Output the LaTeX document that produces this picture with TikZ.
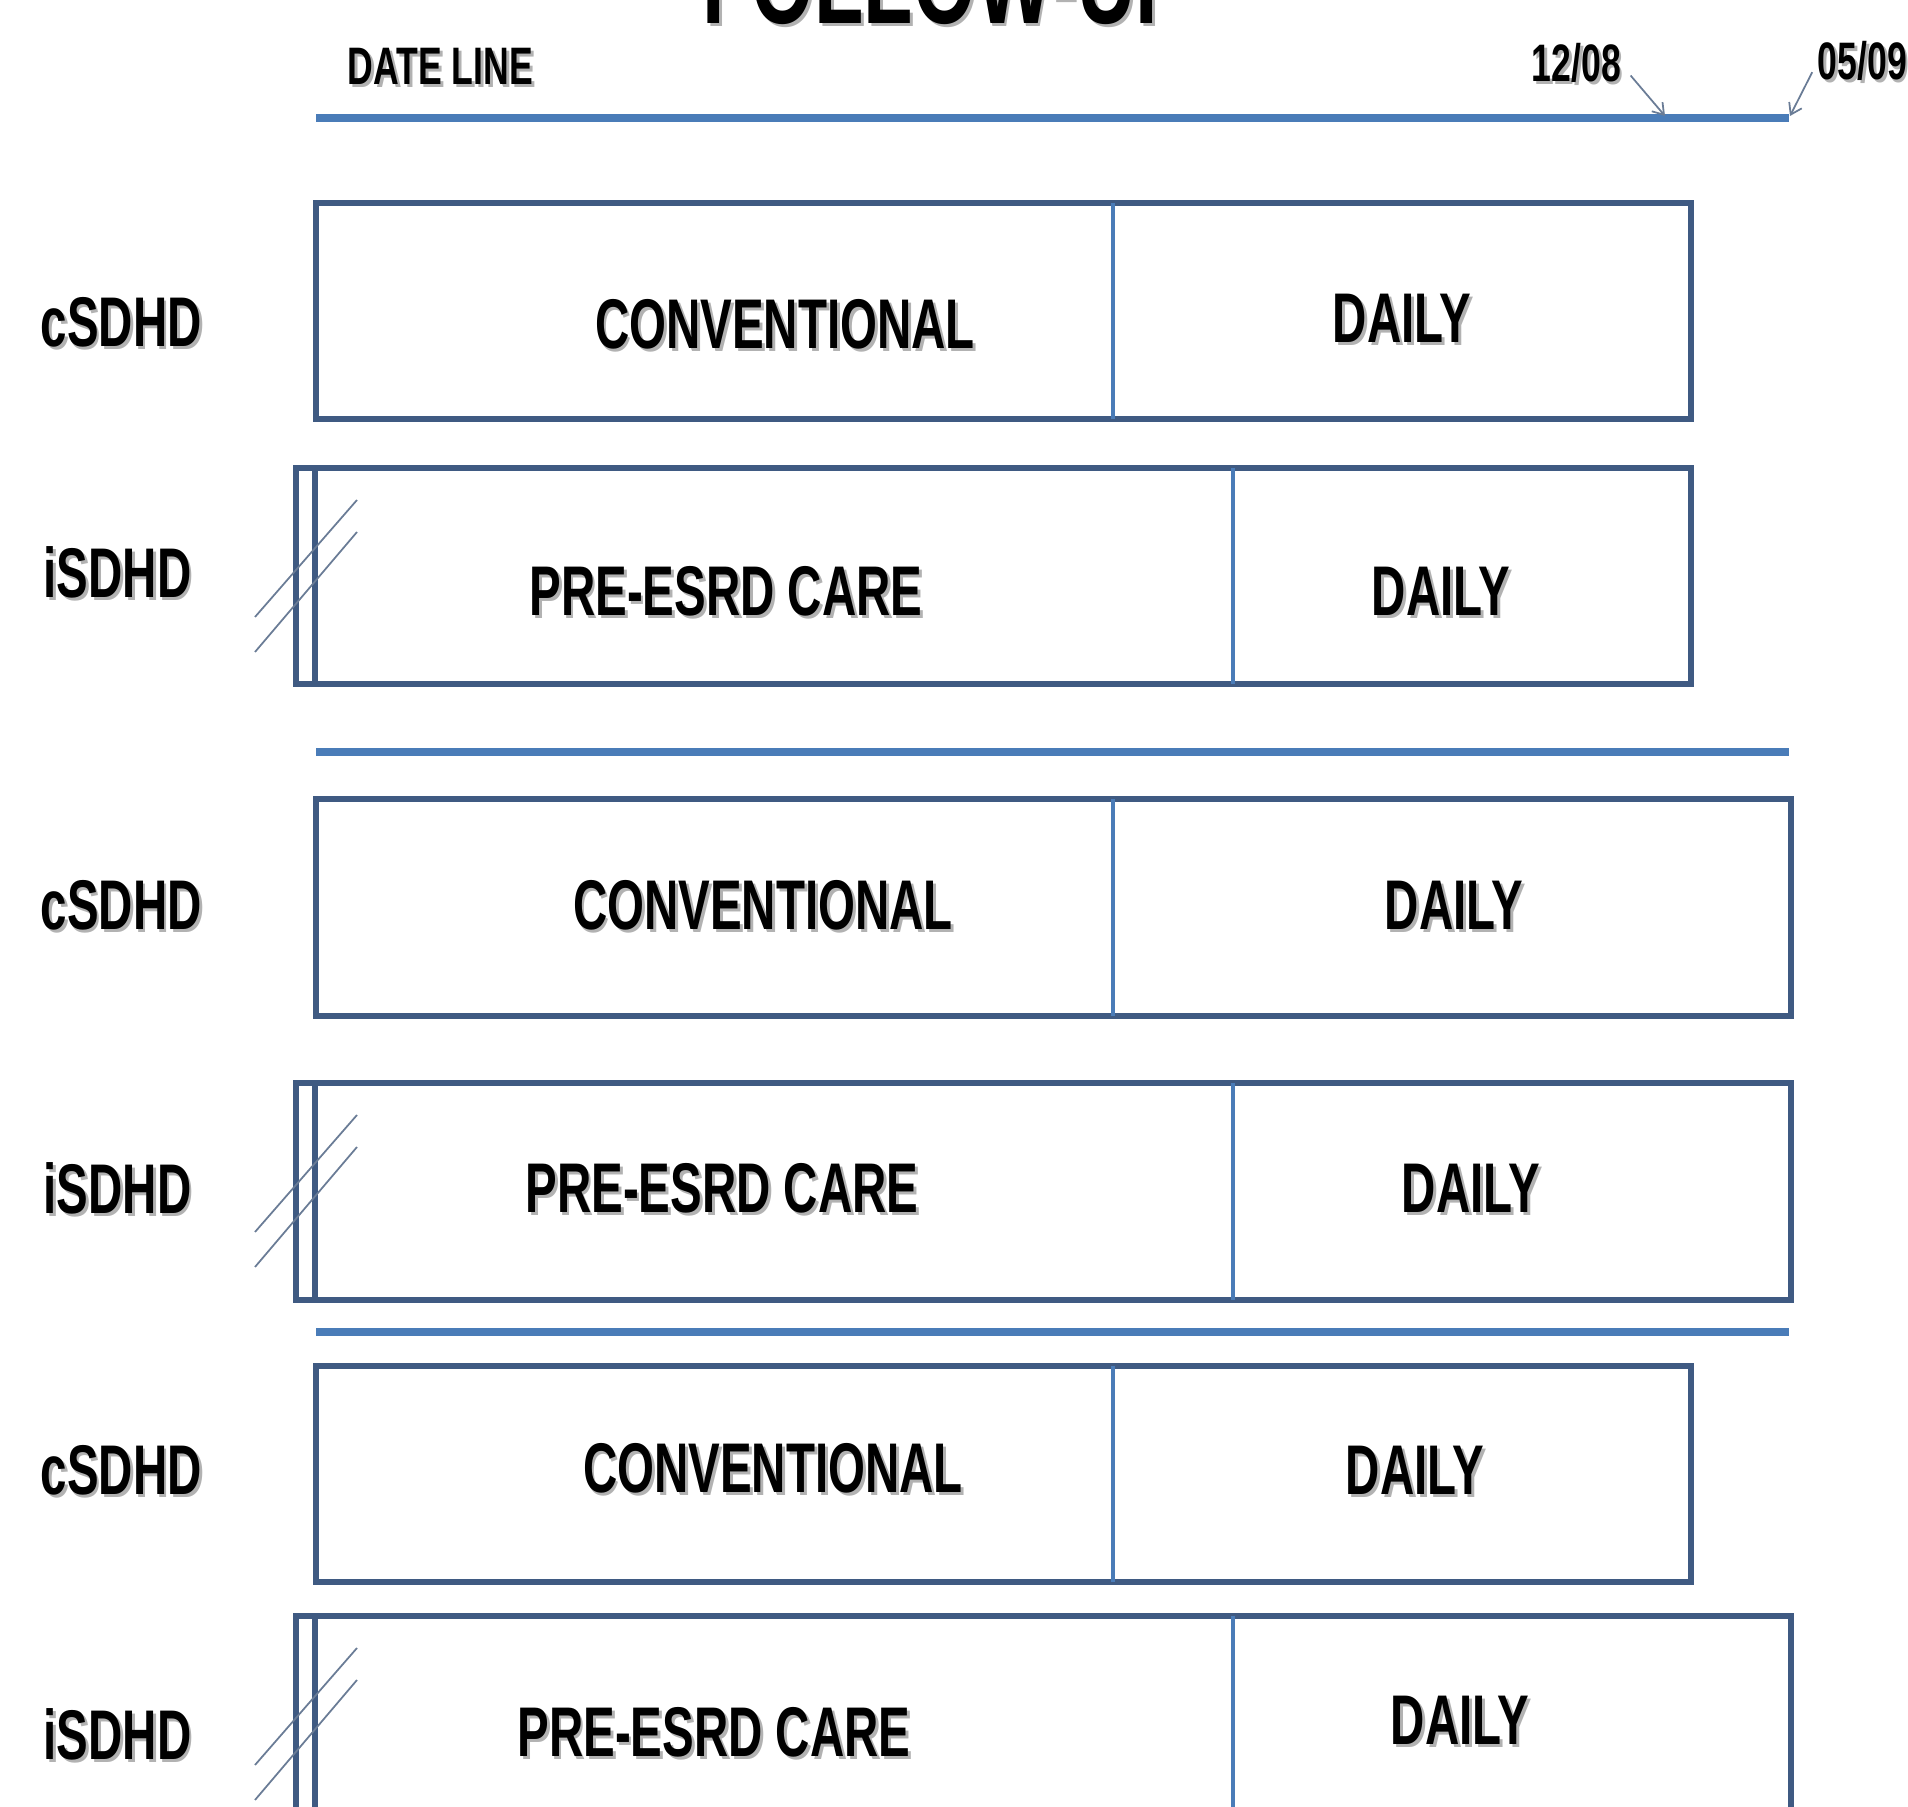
\documentclass[tikz,border=0pt]{standalone}
\usepackage{fontspec}
\setmainfont{Liberation Sans}[FakeStretch=0.675]
\usepackage{tikz}
\usetikzlibrary{arrows.meta}

\definecolor{boxblue}{HTML}{3F5A82}
\definecolor{lineblue}{HTML}{4A7CB8}
\definecolor{hatchgrey}{HTML}{6A7C96}
\newcommand{\shadowtxt}[1]{\makebox[0pt][l]{\hspace{0.8pt}\raisebox{-0.8pt}{\textcolor{black!30}{#1}}}#1}

\begin{document}
\begin{tikzpicture}[x=0.01cm, y=-0.01cm,
    lbl/.style={font=\fontsize{20}{24}\selectfont\bfseries, inner sep=0pt},
    datelbl/.style={font=\fontsize{15}{18}\selectfont\bfseries, inner sep=0pt},
    frame/.style={boxblue, line width=1.7pt},
    divide/.style={lineblue, line width=0.9pt},
    rule/.style={lineblue, line width=2.2pt},
    hatch/.style={hatchgrey, line width=0.5pt},
    pointer/.style={hatchgrey, line width=0.5pt, -{Straight Barb[length=3pt, width=4pt]}}]
    \useasboundingbox (0,0) rectangle (1908,1807);

    % Title and date line
    \node[font=\fontsize{34}{40}\selectfont\bfseries, inner sep=0pt, anchor=base] (title) at (946,24) {\shadowtxt{FOLLOW-UP}};
    \node[datelbl, anchor=base west] (dateline) at (347,85) {\shadowtxt{DATE LINE}};
    \node[datelbl, anchor=base west] (d1) at (1531,82) {\shadowtxt{12/08}};
    \node[datelbl, anchor=base west] (d2) at (1817,80) {\shadowtxt{05/09}};
    \draw[rule] (316,118) -- (1789,118);
    \coordinate (t1) at (1665,116);
    \coordinate (t2) at (1790,116);
    \draw[pointer, shorten <=4pt] (d1.east) -- (t1);
    \draw[pointer, shorten <=3pt] (d2.west) -- (t2);

    % Group 1
    \draw[frame] (316,203) rectangle (1691,419);
    \draw[divide] (1113,203) -- (1113,419);
    \node[lbl, anchor=west] (lab1) at (40,324) {\shadowtxt{cSDHD}};
    \node[lbl] (conv1) at (785,326) {\shadowtxt{CONVENTIONAL}};
    \node[lbl] (daily1) at (1402,320) {\shadowtxt{DAILY}};

    \draw[frame] (296,468) rectangle (1691,684);
    \draw[frame] (315,468) -- (315,684);
    \draw[divide] (1233,468) -- (1233,684);
    \node[lbl, anchor=west] (lab2) at (43,574) {\shadowtxt{iSDHD}};
    \node[lbl] (pre2) at (726,593) {\shadowtxt{PRE-ESRD CARE}};
    \node[lbl] (daily2) at (1441,593) {\shadowtxt{DAILY}};

    \draw[rule] (316,752) -- (1789,752);

    % Group 2
    \draw[frame] (316,799) rectangle (1791,1016);
    \draw[divide] (1113,799) -- (1113,1016);
    \node[lbl, anchor=west] (lab3) at (40,907) {\shadowtxt{cSDHD}};
    \node[lbl] (conv3) at (763,907) {\shadowtxt{CONVENTIONAL}};
    \node[lbl] (daily3) at (1454,907) {\shadowtxt{DAILY}};

    \draw[frame] (296,1083) rectangle (1791,1300);
    \draw[frame] (315,1083) -- (315,1300);
    \draw[divide] (1233,1083) -- (1233,1300);
    \node[lbl, anchor=west] (lab4) at (43,1190) {\shadowtxt{iSDHD}};
    \node[lbl] (pre4) at (722,1190) {\shadowtxt{PRE-ESRD CARE}};
    \node[lbl] (daily4) at (1471,1190) {\shadowtxt{DAILY}};

    \draw[rule] (316,1332) -- (1789,1332);

    % Group 3
    \draw[frame] (316,1366) rectangle (1691,1582);
    \draw[divide] (1113,1366) -- (1113,1582);
    \node[lbl, anchor=west] (lab5) at (40,1472) {\shadowtxt{cSDHD}};
    \node[lbl] (conv5) at (773,1470) {\shadowtxt{CONVENTIONAL}};
    \node[lbl] (daily5) at (1415,1472) {\shadowtxt{DAILY}};

    \draw[frame] (296,1616) rectangle (1791,1840);
    \draw[frame] (315,1616) -- (315,1840);
    \draw[divide] (1233,1616) -- (1233,1840);
    \node[lbl, anchor=west] (lab6) at (43,1736) {\shadowtxt{iSDHD}};
    \node[lbl] (pre6) at (714,1734) {\shadowtxt{PRE-ESRD CARE}};
    \node[lbl] (daily6) at (1460,1722) {\shadowtxt{DAILY}};

    % Break marks
    \draw[hatch] (255,617) -- (357,500);
    \draw[hatch] (255,652) -- (357,532);
    \draw[hatch] (255,1232) -- (357,1115);
    \draw[hatch] (255,1267) -- (357,1147);
    \draw[hatch] (255,1765) -- (357,1648);
    \draw[hatch] (255,1800) -- (357,1680);
\end{tikzpicture}
\end{document}
